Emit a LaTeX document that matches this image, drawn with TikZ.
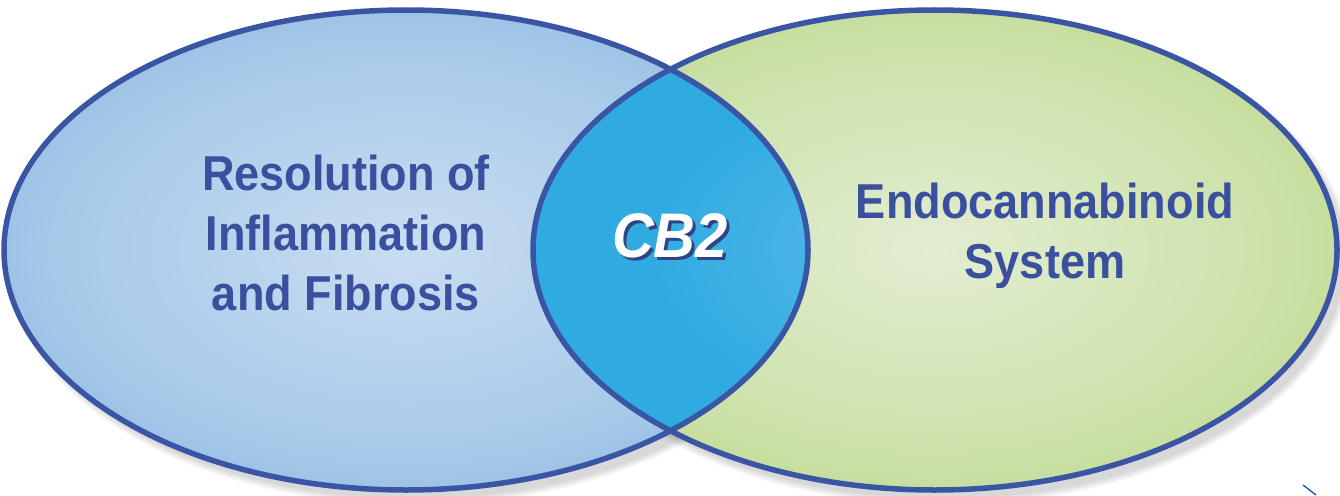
\documentclass[tikz,border=0pt]{standalone}
\usepackage{fontspec}
\setmainfont{Liberation Sans}
\newfontfamily\labfont{Liberation Sans}[FakeStretch=0.92]
\usetikzlibrary{shapes.geometric}
\definecolor{rim}{HTML}{3B55A5}
\definecolor{txt}{HTML}{3A509E}
\definecolor{bluein}{HTML}{C9DDF1}
\definecolor{bluemid}{HTML}{A6C9E9}
\definecolor{blueout}{HTML}{78ABDA}
\definecolor{greenin}{HTML}{E3EDD2}
\definecolor{greenmid}{HTML}{CBE1A8}
\definecolor{greenout}{HTML}{AFD378}
\definecolor{cbin}{HTML}{5CBAE8}
\definecolor{cbout}{HTML}{2FABE2}
\pgfdeclareradialshading{leftshade}{\pgfpoint{0bp}{0bp}}{color(0bp)=(bluein); color(22bp)=(bluemid); color(36bp)=(blueout); color(50bp)=(blueout)}
\pgfdeclareradialshading{rightshade}{\pgfpoint{0bp}{0bp}}{color(0bp)=(greenin); color(22bp)=(greenmid); color(36bp)=(greenout); color(50bp)=(greenout)}
\pgfdeclareradialshading{midshade}{\pgfpoint{0bp}{0bp}}{color(0bp)=(cbin); color(18bp)=(cbout); color(50bp)=(cbout)}
\tikzset{
  venn/.style={ellipse, minimum width=804pt, minimum height=480pt, inner sep=0pt},
  rimline/.style={draw=rim, line width=5.5pt},
  lbl/.style={font=\labfont\bfseries\fontsize{49}{60}\selectfont, text=txt, align=center},
  cblbl/.style={font=\labfont\bfseries\itshape\fontsize{63}{70}\selectfont},
  shadowell/.style={ellipse, fill=black, fill opacity=0.04, inner sep=0pt}
}
\begin{document}
\begin{tikzpicture}[x=1pt,y=-1pt]
\useasboundingbox (0,0) rectangle (1340,495);
\fill[white] (0,0) rectangle (1340,495);
% soft shadows
\foreach \g in {0,4,8,12}{
  \node[shadowell, minimum width=804pt+\g pt, minimum height=480pt+\g pt] (shl\g) at (414,259) {};
  \node[shadowell, minimum width=804pt+\g pt, minimum height=480pt+\g pt] (shr\g) at (943,259) {};
}
% ellipses
\node[venn, shading=leftshade] (left) at (406,250) {};
\node[venn, shading=rightshade] (right) at (935,250) {};
\begin{scope}
  \clip (406,250) ellipse [x radius=402pt, y radius=240pt];
  \node[venn, shading=midshade] (mid) at (935,250) {};
\end{scope}
\node[venn, rimline] (leftrim) at (406,250) {};
\node[venn, rimline] (rightrim) at (935,250) {};
% labels
\node[lbl] (res) at (346,233) {Resolution of\\Inflammation\\and Fibrosis};
\node[lbl] (endo) at (1045,236) {Endocannabinoid\\System};
\node[cblbl, text=white] (cb) at (670,237) {\makebox[0pt][l]{\hspace{3pt}\raisebox{-3pt}{\color{rim!80!black}CB2}}CB2};
% corner mark
\coordinate (m1) at (1303,485);
\coordinate (m2) at (1316,495);
\draw[color=blue!60!cyan!70!black, line width=1.2pt] (m1) -- (m2);
\end{tikzpicture}
\end{document}
